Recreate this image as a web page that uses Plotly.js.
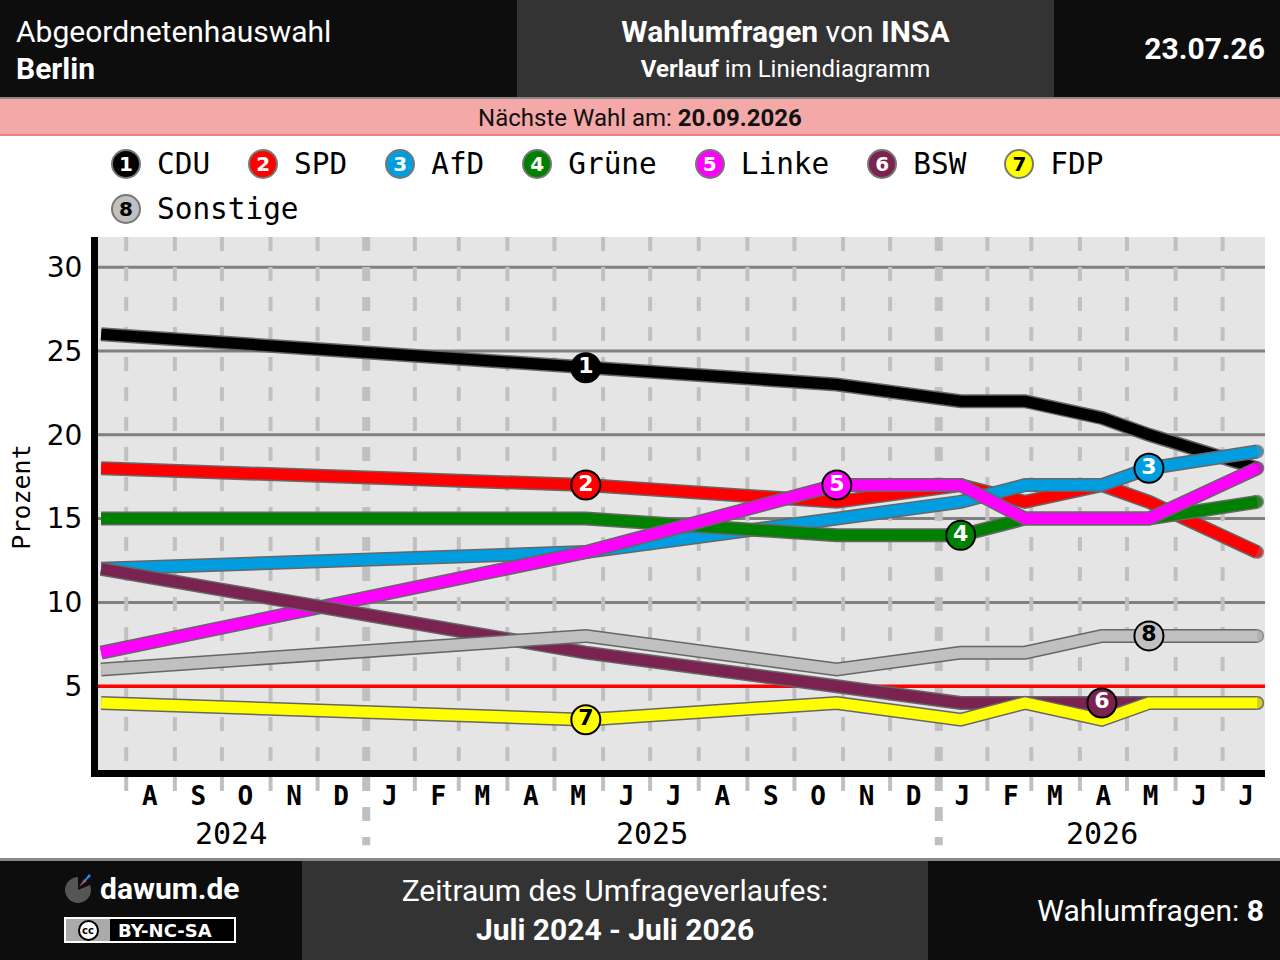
<!DOCTYPE html>
<html><head><meta charset="utf-8">
<script src="https://cdn.plot.ly/plotly-3.0.1.min.js"></script>
<style>
body{margin:0;width:1280px;height:960px;overflow:hidden;background:#fff;position:relative;font-family:Roboto,sans-serif}
#chart{position:absolute;left:0;top:0;width:1280px;height:960px}
.abs{position:absolute}
.panel{position:absolute;color:#fff}
.legend{position:absolute;left:111px;top:141px;width:1150px;display:flex;flex-wrap:wrap}
.item{display:flex;align-items:center;height:45px;margin-right:38px}
.dot{width:30px;height:30px;box-sizing:border-box;border:2px solid #777;border-radius:50%;display:flex;align-items:center;justify-content:center;font-family:"DejaVu Sans";font-weight:bold;font-size:20px}
.lbl{margin-left:16px;font-family:"DejaVu Sans Mono";font-size:29.4px;color:#000}
</style></head>
<body>
<div id="chart"></div>

<!-- header -->
<div class="panel" style="left:0;top:0;width:517px;height:97px;background:#0d0d0d">
  <div class="abs" style="left:16px;top:13px;font-size:30px;line-height:37px">Abgeordnetenhauswahl<br><b>Berlin</b></div>
</div>
<div class="panel" style="left:517px;top:0;width:537px;height:97px;background:#333">
  <div class="abs" style="left:0;width:537px;top:13px;text-align:center;font-size:30px;line-height:37px"><b>Wahlumfragen</b> von <b>INSA</b></div>
  <div class="abs" style="left:0;width:537px;top:55px;text-align:center;font-size:24px;line-height:29px"><b>Verlauf</b> im Liniendiagramm</div>
</div>
<div class="panel" style="left:1054px;top:0;width:226px;height:97px;background:#0d0d0d">
  <div class="abs" style="right:15px;top:30px;font-size:30px;line-height:37px;font-weight:bold">23.07.26</div>
</div>
<div class="abs" style="left:0;top:97px;width:1280px;height:2px;background:#888"></div>
<div class="abs" style="left:0;top:99px;width:1280px;height:35px;background:#f4a8a8;border-bottom:2px solid #f08080;text-align:center;font-size:24px;line-height:38px;color:#111">Nächste Wahl am: <b>20.09.2026</b></div>

<div class="legend" id="legend"></div>

<!-- footer -->
<div class="abs" style="left:0;top:858px;width:1280px;height:3px;background:#888"></div>
<div class="panel" style="left:0;top:861px;width:302px;height:99px;background:#0d0d0d">
  <svg class="abs" style="left:62px;top:12px" width="32" height="32" viewBox="0 0 32 32">
    <path d="M16,17 L16,4 A13,13 0 1 0 28,12 Z" fill="#555"/>
    <path d="M17,14 L22,6 L25,8 Z" fill="#e03030"/>
    <path d="M18,13 L27,1 L29,3 Z" fill="#1e90ff"/>
  </svg>
  <div class="abs" style="left:100px;top:10px;font-size:30px;line-height:36px;font-weight:bold">dawum.de</div>
  <div class="abs" style="left:64px;top:56px;width:168px;height:22px;border:2px solid #fff;background:#000;display:flex;align-items:center">
    <div style="width:44px;height:22px;background:#aaa;display:flex;align-items:center;justify-content:center">
      <div style="width:21px;height:21px;border-radius:50%;background:#fff;border:2px solid #000;box-sizing:border-box;color:#000;font-family:'DejaVu Sans';font-weight:bold;font-size:10px;display:flex;align-items:center;justify-content:center">cc</div>
    </div>
    <div style="margin-left:8px;font-family:'DejaVu Sans';font-weight:bold;font-size:18px;color:#fff">BY-NC-SA</div>
  </div>
</div>
<div class="panel" style="left:302px;top:861px;width:626px;height:99px;background:#333;text-align:center">
  <div class="abs" style="left:0;width:626px;top:12px;font-size:30px;line-height:36px">Zeitraum des Umfrageverlaufes:</div>
  <div class="abs" style="left:0;width:626px;top:51px;font-size:30px;line-height:36px;font-weight:bold">Juli 2024 - Juli 2026</div>
</div>
<div class="panel" style="left:928px;top:861px;width:352px;height:99px;background:#0d0d0d">
  <div class="abs" style="right:16px;top:32px;font-size:30px;line-height:36px">Wahlumfragen: <b>8</b></div>
</div>

<script>
// ---- data ----
const pollDates = ['2024-07-16','2025-05-21','2025-10-28','2026-01-15','2026-02-25','2026-04-15','2026-05-15','2026-07-23'];
const parties = ['CDU','SPD','AfD','Grüne','Linke','BSW','FDP','Sonstige'];
const colors = ['#000000','#ff0000','#009ee0','#008000','#ff00ff','#7a2350','#ffff00','#c0c0c0'];
const CDU      = [26,24,23,22,22,21,20,18];
const SPD      = [18,17,16,17,16,17,16,13];
const AfD      = [12,13,15,16,17,17,18,19];
const GRUENE   = [15,15,14,14,15,15,15,16];
const LINKE    = [7,13,17,17,15,15,15,18];
const BSW      = [12,7,5,4,4,4,4,4];
const FDP      = [4,3,4,3,4,3,4,4];
const SONSTIGE = [6,8,6,7,7,8,8,8];
const labelAt  = [1,1,6,3,2,5,1,6];
const monthLetters = ['A','S','O','N','D','J','F','M','A','M','J','J','A','S','O','N','D','J','F','M','A','M','J','J'];
const yearLabels = ['2024','2025','2026'];
const yTicks = [5,10,15,20,25,30];
const xRange = ['2024-07-14','2026-07-28'];
const yRange = [0,31.8];
const threshold = 5;

const series = [CDU,SPD,AfD,GRUENE,LINKE,BSW,FDP,SONSTIGE];

// ---- legend ----
const leg = document.getElementById('legend');
parties.forEach((p,i)=>{
  const it=document.createElement('div');it.className='item';
  const d=document.createElement('div');d.className='dot';d.style.background=colors[i];
  d.style.color=(i>=6)?'#000':'#fff';d.textContent=String(i+1);
  const l=document.createElement('div');l.className='lbl';l.textContent=p;
  it.appendChild(d);it.appendChild(l);leg.appendChild(it);
});

// ---- axis helpers ----
const pad2=n=>String(n).padStart(2,'0');
const iso=d=>d.getUTCFullYear()+'-'+pad2(d.getUTCMonth()+1)+'-'+pad2(d.getUTCDate());
const monthMid=[], monthStart=[];
for(let k=0;k<monthLetters.length;k++){
  monthMid.push(iso(new Date(Date.UTC(2024,7+k,16))));
  monthStart.push(new Date(Date.UTC(2024,7+k,1)));
}
const r0=Date.parse(xRange[0]), r1=Date.parse(xRange[1]);

const shapes=[];
// horizontal grid lines (threshold line drawn separately in red)
yTicks.filter(v=>v!==threshold).forEach(v=>{
  shapes.push({type:'line',xref:'paper',yref:'y',x0:0,x1:1,y0:v,y1:v,line:{color:'#808080',width:3},layer:'below'});
});
monthStart.forEach(d=>{
  const isYear=d.getUTCMonth()===0;
  shapes.push({type:'line',xref:'x',yref:'paper',x0:iso(d),x1:iso(d),y0:1,y1:isYear?-0.141:-0.0413,
    line:{color:'#c0c0c0',width:isYear?8:4,dash:'14px,16px'},layer:'below'});
});
shapes.push({type:'line',xref:'paper',yref:'y',x0:0,x1:1,y0:threshold,y1:threshold,line:{color:'#ff0000',width:3.5},layer:'below'});

const annotations=[];
yearLabels.forEach(y=>{
  const a=Math.max(r0,Date.UTC(+y,0,1)), b=Math.min(r1,Date.UTC(+y+1,0,1));
  annotations.push({xref:'x',yref:'paper',x:iso(new Date((a+b)/2)),y:-0.12,text:y,showarrow:false,
    font:{family:'DejaVu Sans Mono',size:30,color:'#000'},xanchor:'center',yanchor:'middle'});
});
annotations.push({xref:'paper',yref:'paper',x:-(98-22)/1167,y:0.511,text:'Prozent',textangle:-90,showarrow:false,
  font:{family:'DejaVu Sans Mono',size:25,color:'#000'},xanchor:'center',yanchor:'middle'});

// ---- traces ----
const traces=[];
series.forEach((vals,i)=>{
  const n=vals.length;
  traces.push({x:pollDates,y:vals,mode:'lines+markers',line:{color:'#666',width:14},
    marker:{size:vals.map((v,j)=>j===n-1?14:0),color:'#666',line:{width:0}},hoverinfo:'skip'});
  traces.push({x:pollDates,y:vals,mode:'lines+markers',line:{color:colors[i],width:11},
    marker:{size:vals.map((v,j)=>j===n-1?11:0),color:colors[i],line:{width:0}},hoverinfo:'skip'});
});
series.forEach((vals,i)=>{
  const k=labelAt[i];
  traces.push({x:[pollDates[k]],y:[vals[k]],mode:'markers+text',text:[String(i+1)],textposition:'middle center',
    marker:{size:29,color:colors[i],line:{color:'#000',width:2}},
    textfont:{family:'DejaVu Sans',size:22,weight:700,color:(i>=6)?'#000':'#fff'},cliponaxis:false,hoverinfo:'skip'});
});

const layout={
  width:1280,height:960,autosize:false,
  margin:{l:98,r:15,t:237,b:190,pad:0},
  paper_bgcolor:'rgba(0,0,0,0)',plot_bgcolor:'#e5e5e5',
  showlegend:false,
  xaxis:{type:'date',range:xRange,showgrid:false,zeroline:false,showline:true,linecolor:'#000',linewidth:7,
    ticks:'',tickmode:'array',tickvals:monthMid,ticktext:monthLetters,ticklabelstandoff:-3,
    tickfont:{family:'DejaVu Sans Mono',size:26,weight:700,color:'#000'},fixedrange:true},
  yaxis:{range:yRange,tickmode:'array',tickvals:yTicks,ticktext:yTicks.map(String),showgrid:false,
    zeroline:false,showline:true,linecolor:'#000',linewidth:7,ticks:'',ticklabelstandoff:3,
    tickfont:{family:'DejaVu Sans',size:28,color:'#000'},fixedrange:true},
  shapes:shapes,annotations:annotations
};
Plotly.newPlot('chart',traces,layout,{staticPlot:true,displayModeBar:false});
</script>
</body></html>
